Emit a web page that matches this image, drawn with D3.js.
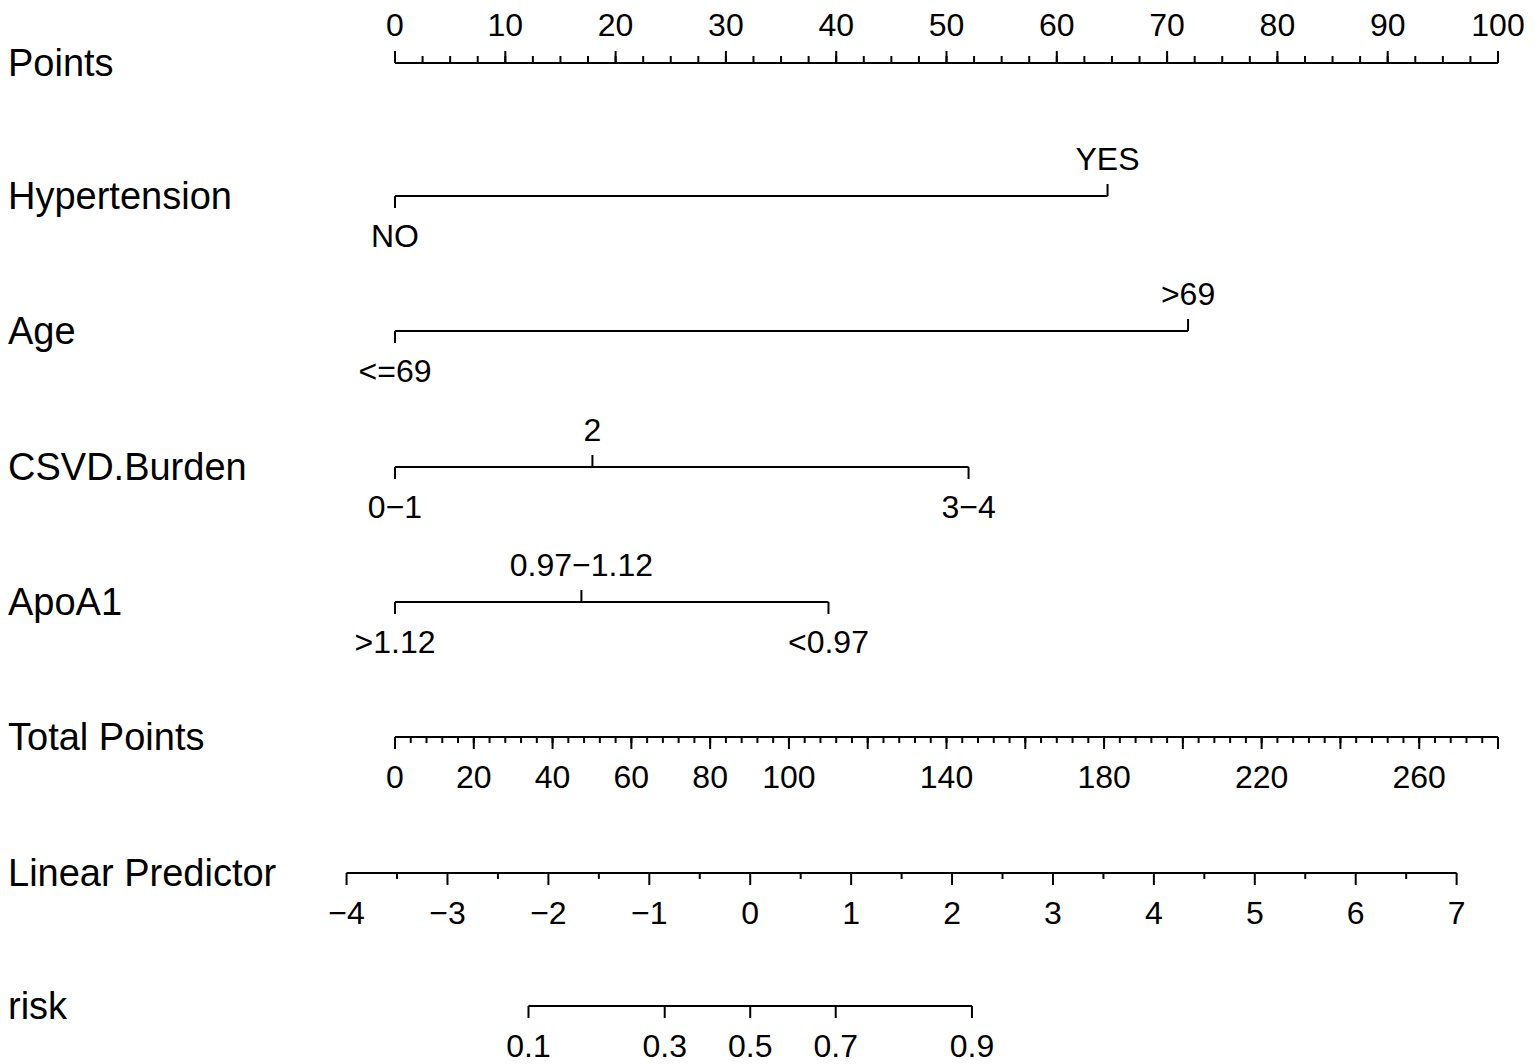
<!DOCTYPE html>
<meta charset="utf-8">
<style>
body { margin: 0; background: #fff; }
.nomo text { font-family: "Liberation Sans", Arial, sans-serif; fill: #000; }
.nomo .row { font-size: 38px; }
.nomo .tick { font-size: 32px; text-anchor: middle; }
.nomo line { stroke: #000; stroke-width: 2; }
</style>
<svg class="nomo" width="1535" height="1064"></svg>
<script src="https://d3js.org/d3.v7.min.js"></script>
<script>

// values
var pointsTicks = d3.range(0, 101, 10),
    pointsMinor = d3.range(0, 100.1, 2.5);

var hypertensionLevels = ["NO", "YES"],
    hypertensionPoints = [0, 64.6];
var ageLevels = ["<=69", ">69"],
    agePoints = [0, 71.9];
var csvdLevels = ["0\u22121", "2", "3\u22124"],
    csvdPoints = [0, 17.9, 52.0];
var apoLevels = [">1.12", "0.97\u22121.12", "<0.97"],
    apoPoints = [0, 16.9, 39.3];

var totalMax = 280,
    totalLabels = [0, 20, 40, 60, 80, 100, 140, 180, 220, 260],
    totalMajor = d3.range(0, 281, 20),
    totalMinor = d3.range(0, 281, 4);

var lpAtTotal = [-3.52, 7.41],   // linear predictor at total points 0 and 280
    lpTicks = d3.range(-4, 8),
    lpMinor = d3.range(-3.5, 7, 1);

var riskTicks = [0.1, 0.3, 0.5, 0.7, 0.9];

var svg = d3.select(".nomo");

var x0 = 395, x1 = 1498;
var pts = d3.scaleLinear().domain([0, 100]).range([x0, x1]);
var tot = d3.scaleLinear().domain([0, totalMax]).range([x0, x1]);
var lp = d3.scaleLinear().domain(lpAtTotal).range([x0, x1]);
var logit = function(p) { return Math.log(p / (1 - p)); };

var fmt = d3.format("");

function rowLabel(txt, y) {
  svg.append("text").attr("class", "row")
      .attr("x", 8).attr("y", y).attr("dy", "0.35em")
      .text(txt);
}

function hline(xa, xb, y) {
  svg.append("line").attr("x1", xa).attr("x2", xb).attr("y1", y).attr("y2", y);
}

function ticks(g, vals, pos, y, len) {
  g.selectAll(null).data(vals).enter().append("line")
      .attr("x1", pos).attr("x2", pos)
      .attr("y1", y).attr("y2", y + len);
}

function labels(g, vals, pos, y, txt) {
  g.selectAll(null).data(vals).enter().append("text")
      .attr("class", "tick")
      .attr("x", pos).attr("y", y).attr("dy", "0.35em")
      .text(txt);
}

// Points
var yP = 63;
rowLabel("Points", yP);
var gP = svg.append("g");
hline(pts(0), pts(100), yP);
ticks(gP, pointsMinor, function(d) { return pts(d); }, yP, -7);
ticks(gP, pointsTicks, function(d) { return pts(d); }, yP, -12);
labels(gP, pointsTicks, function(d) { return pts(d); }, yP - 38, fmt);

// categorical rows
var vars = [
  {name: "Hypertension", y: 196, levels: hypertensionLevels, points: hypertensionPoints},
  {name: "Age", y: 331, levels: ageLevels, points: agePoints},
  {name: "CSVD.Burden", y: 467, levels: csvdLevels, points: csvdPoints},
  {name: "ApoA1", y: 602, levels: apoLevels, points: apoPoints}
];

vars.forEach(function(v) {
  rowLabel(v.name, v.y);
  hline(pts(d3.min(v.points)), pts(d3.max(v.points)), v.y);
  var lv = v.levels.map(function(l, i) { return {label: l, p: v.points[i], up: i % 2 === 1}; });
  var g = svg.append("g");
  g.selectAll(null).data(lv).enter().append("line")
      .attr("x1", function(d) { return pts(d.p); })
      .attr("x2", function(d) { return pts(d.p); })
      .attr("y1", v.y)
      .attr("y2", function(d) { return d.up ? v.y - 12 : v.y + 12; });
  g.selectAll(null).data(lv).enter().append("text")
      .attr("class", "tick")
      .attr("x", function(d) { return pts(d.p); })
      .attr("y", function(d) { return d.up ? v.y - 37 : v.y + 40; })
      .attr("dy", "0.35em")
      .text(function(d) { return d.label; });
});

// Total Points
var yT = 737;
rowLabel("Total Points", yT);
var gT = svg.append("g");
hline(tot(0), tot(totalMax), yT);
ticks(gT, totalMinor, function(d) { return tot(d); }, yT, 6);
ticks(gT, totalMajor, function(d) { return tot(d); }, yT, 12);
labels(gT, totalLabels, function(d) { return tot(d); }, yT + 40, fmt);

// Linear Predictor
var yL = 873;
rowLabel("Linear Predictor", yL);
var gL = svg.append("g");
hline(lp(d3.min(lpTicks)), lp(d3.max(lpTicks)), yL);
ticks(gL, lpMinor, function(d) { return lp(d); }, yL, 6);
ticks(gL, lpTicks, function(d) { return lp(d); }, yL, 12);
labels(gL, lpTicks, function(d) { return lp(d); }, yL + 40, d3.format("d"));

// risk
var yR = 1006;
rowLabel("risk", yR);
var gR = svg.append("g");
hline(lp(logit(d3.min(riskTicks))), lp(logit(d3.max(riskTicks))), yR);
ticks(gR, riskTicks, function(d) { return lp(logit(d)); }, yR, 12);
labels(gR, riskTicks, function(d) { return lp(logit(d)); }, yR + 40, d3.format(".1f"));

</script>
